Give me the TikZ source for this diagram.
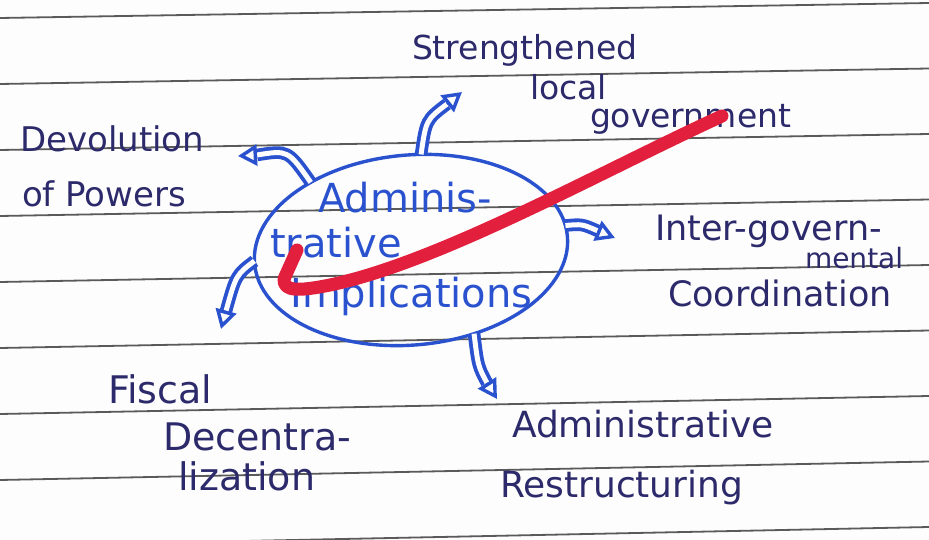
\documentclass[tikz,border=0pt]{standalone}
\usepackage{fontspec}
\setmainfont{DejaVu Sans}
\usetikzlibrary{shapes.geometric,arrows.meta}
\definecolor{ink}{HTML}{2C2A6B}
\definecolor{pen}{HTML}{2A52CF}
\definecolor{rulecol}{HTML}{5A5A5A}
\definecolor{marker}{HTML}{E21F3D}
\definecolor{paper}{HTML}{FDFDFD}
\newcommand{\tightlines}{\lineskiplimit=-200pt\relax\lineskip=0pt\relax}
\begin{document}
\begin{tikzpicture}[x=1pt,y=-1pt,
  lbl/.style={text=ink, align=left, anchor=base west, inner sep=0pt, outer sep=0pt},
  ruled/.style={draw=rulecol, line width=1.8pt},
  bubble/.style={ellipse, draw=pen, line width=3.4pt, minimum width=314pt, minimum height=190pt, inner sep=0pt, outer sep=0pt},
  ctext/.style={text=pen, align=left, anchor=base west, inner sep=0pt, font=\fontsize{40}{45}\selectfont\tightlines},
  shaft/.style={draw=pen, line width=3.8pt, double=paper, double distance=5pt},
  head/.style={draw=pen, line width=3.4pt, -{Triangle[open, length=19pt, width=21pt]}},
  markerline/.style={draw=marker, line width=13pt, line cap=round, line join=round}]
\useasboundingbox (0,0) rectangle (929,540);
\fill[paper] (0,0) rectangle (929,540);
\clip (0,0) rectangle (929,540);
% ruled lines
\foreach \k in {0,...,8}{
  \draw[ruled] (0,{18+66*\k}) -- (929,{3+65.5*\k});
}
% central bubble
\node[bubble, rotate=5] (c) at (411,250) {};
\node[ctext] (ct) at (270,307) {\hspace*{48pt}Adminis-\\trative\\[5pt]\hspace*{20pt}Implications};
% labels
\node[lbl, font=\fontsize{33}{40}\selectfont\tightlines] (sl) at (412,128)
  {Strengthened\\\hspace*{118pt}local\\[-12pt]\hspace*{178pt}government};
\node[lbl, font=\fontsize{34}{55}\selectfont\tightlines] (dp) at (20,207)
  {Devolution\\\hspace*{2pt}of Powers};
\node[lbl, font=\fontsize{35}{28}\selectfont\tightlines] (ig) at (655,306)
  {Inter-govern-\\\hspace*{150pt}{\fontsize{28}{28}\selectfont mental}\\[10pt]\hspace*{13pt}Coordination};
\node[lbl, font=\fontsize{38}{47}\selectfont\tightlines] (fd) at (108,490)
  {Fiscal\\\hspace*{55pt}Decentra-\\[-7pt]\hspace*{70pt}lization};
\node[lbl, font=\fontsize{36}{60}\selectfont\tightlines] (ar) at (500,497)
  {\hspace*{12pt}Administrative\\Restructuring};
% arrow ends
\coordinate (e1) at (447,104); \coordinate (t1) at (462,92);
\coordinate (e2) at (257,155); \coordinate (t2) at (238,156);
\coordinate (e3) at (598,231); \coordinate (t3) at (615,238);
\coordinate (e4) at (226,311); \coordinate (t4) at (221,329);
\coordinate (e5) at (487,383); \coordinate (t5) at (497,399);
% arrows
\draw[shaft] (c.79) .. controls (426,120) .. (e1);
\draw[head] (e1) -- (t1);
\draw[shaft] (c.141) .. controls (288,150) .. (e2);
\draw[head] (e2) -- (t2);
\draw[shaft] (c.4) .. controls (582,224) .. (e3);
\draw[head] (e3) -- (t3);
\draw[shaft] (c.179) .. controls (236,275) .. (e4);
\draw[head] (e4) -- (t4);
\draw[shaft] (c.302) .. controls (478,366) .. (e5);
\draw[head] (e5) -- (t5);
% red marker stroke
\draw[markerline] (722,116) .. controls (600,172) and (440,262) .. (330,285) .. controls (300,291) and (283,292) .. (284,279) -- (297,250);
\end{tikzpicture}
\end{document}
